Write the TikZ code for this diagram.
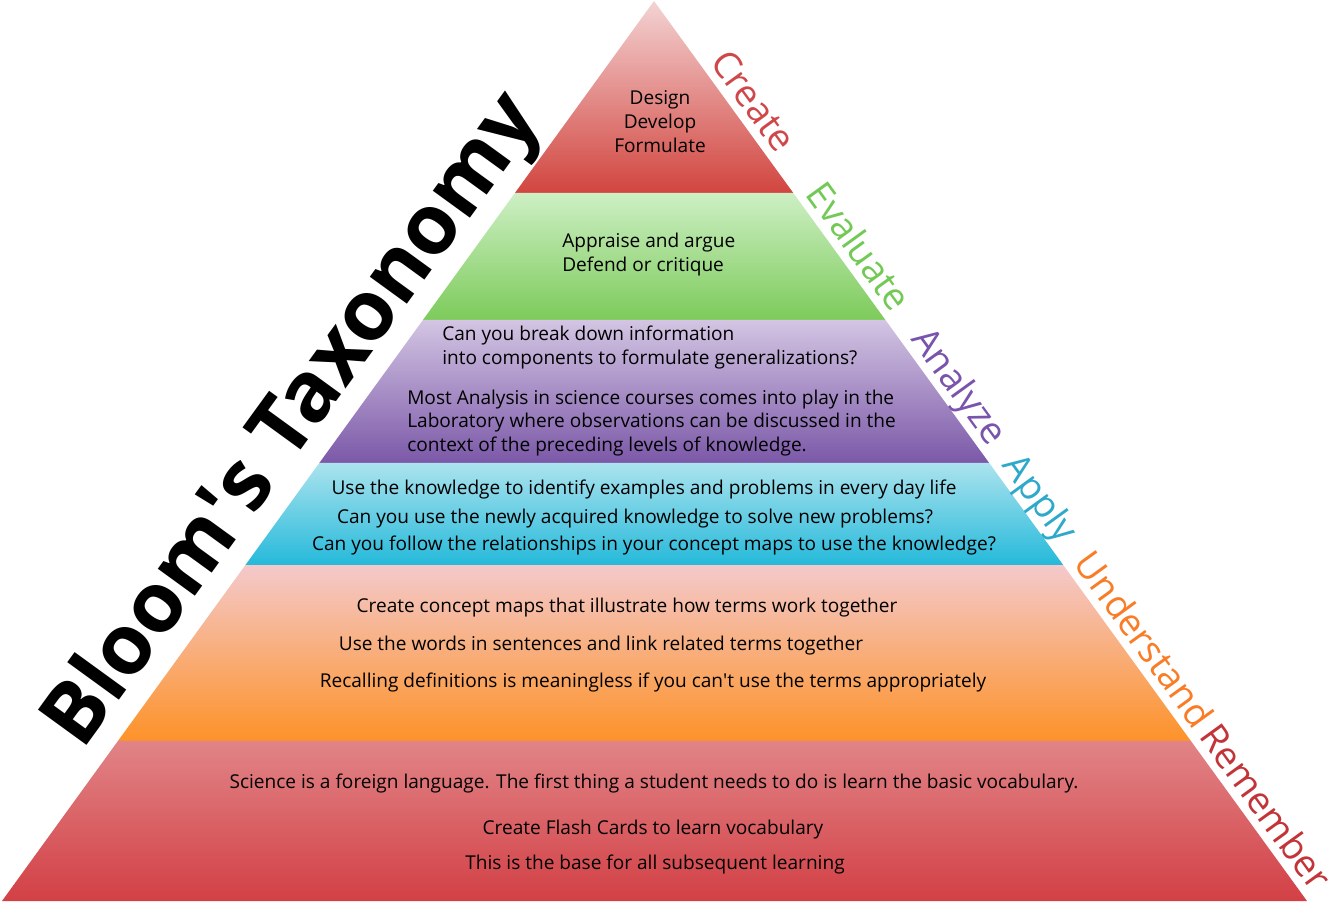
\documentclass[tikz,border=0pt]{standalone}
\usepackage{fontspec}
\setmainfont{Open Sans}
\usetikzlibrary{calc}
\newcommand{\sq}{\XeTeXglyph\XeTeXcharglyph"0027\relax}
\definecolor{createtop}{HTML}{F3D3D3}
\definecolor{createbot}{HTML}{D2453F}
\definecolor{evaltop}{HTML}{CDEFC4}
\definecolor{evalbot}{HTML}{7DCB5B}
\definecolor{analtop}{HTML}{D3C5E3}
\definecolor{analbot}{HTML}{7B58A8}
\definecolor{applytop}{HTML}{ABE3EE}
\definecolor{applybot}{HTML}{25B9DA}
\definecolor{undertop}{HTML}{F4C9CB}
\definecolor{underbot}{HTML}{FD9229}
\definecolor{remtop}{HTML}{E18487}
\definecolor{rembot}{HTML}{D24045}
\definecolor{createlbl}{HTML}{D0474A}
\definecolor{evallbl}{HTML}{72C955}
\definecolor{anallbl}{HTML}{7953AC}
\definecolor{applylbl}{HTML}{2EA9CA}
\definecolor{underlbl}{HTML}{F97C27}
\definecolor{remlbl}{HTML}{C23437}

\begin{document}
\begin{tikzpicture}[x=0.75pt,y=-0.75pt,
    txt/.style={font=\fontsize{14.3}{19}\selectfont, inner sep=0pt, text height=10.6pt, text depth=3.2pt},
    lvl/.style={font=\fontsize{28}{34}\selectfont, rotate=-54, anchor=base, inner sep=0pt}]
    \useasboundingbox (0,0) rectangle (1334,903);
    \coordinate (A) at (654,1);
    \coordinate (BL) at (2,901);
    \coordinate (BR) at (1307,901);
    % band edges
    \coordinate (L1) at ($(A)!0.2133!(BL)$); \coordinate (R1) at ($(A)!0.2133!(BR)$);
    \coordinate (L2) at ($(A)!0.3544!(BL)$); \coordinate (R2) at ($(A)!0.3544!(BR)$);
    \coordinate (L3) at ($(A)!0.5133!(BL)$); \coordinate (R3) at ($(A)!0.5133!(BR)$);
    \coordinate (L4) at ($(A)!0.6267!(BL)$); \coordinate (R4) at ($(A)!0.6267!(BR)$);
    \coordinate (L5) at ($(A)!0.8222!(BL)$); \coordinate (R5) at ($(A)!0.8222!(BR)$);

    \shade[top color=createtop, bottom color=createbot] (A)--(R1)--(L1)--cycle;
    \shade[top color=evaltop, bottom color=evalbot] (L1)--(R1)--(R2)--(L2)--cycle;
    \shade[top color=analtop, bottom color=analbot] (L2)--(R2)--(R3)--(L3)--cycle;
    \shade[top color=applytop, bottom color=applybot] (L3)--(R3)--(R4)--(L4)--cycle;
    \shade[top color=undertop, bottom color=underbot] (L4)--(R4)--(R5)--(L5)--cycle;
    \shade[top color=remtop, bottom color=rembot] (L5)--(R5)--(BR)--(BL)--cycle;

    % level names along the right side
    \node[lvl, text=createlbl] (create) at ($(A)!0.1254!(BR)+(7,-5)$) {Create};
    \node[lvl, text=evallbl] (evaluate) at ($(A)!0.2868!(BR)+(7,-5)$) {Evaluate};
    \node[lvl, text=anallbl] (analyze) at ($(A)!0.4417!(BR)+(7,-5)$) {Analyze};
    \node[lvl, text=applylbl] (apply) at ($(A)!0.5660!(BR)+(7,-5)$) {Apply};
    \node[lvl, text=underlbl] (understand) at ($(A)!0.7235!(BR)+(7,-5)$) {Understand};
    \node[lvl, text=remlbl] (remember) at ($(A)!0.9100!(BR)+(7,-5)$) {Remember};

    % title along the left side
    \node[font=\fontsize{63}{70}\selectfont\bfseries, rotate=54, anchor=base, inner sep=0pt] (title)
        at ($(A)!0.4962!(BL)+(-18,-13)$) {Bloom\sq s Taxonomy};

    % Create
    \node[txt] (create1) at (660,100) {Design};
    \node[txt] (create2) at (660,124) {Develop};
    \node[txt] (create3) at (660,148) {Formulate};
    % Evaluate
    \node[txt, anchor=west] (eval1) at (562,243) {Appraise and argue};
    \node[txt, anchor=west] (eval2) at (562,267) {Defend or critique};
    % Analyze
    \node[txt, anchor=west] (anal1) at (442,336) {Can you break down information};
    \node[txt, anchor=west] (anal2) at (442,360) {into components to formulate generalizations?};
    \node[txt, anchor=west] (anal3) at (407,400) {Most Analysis in science courses comes into play in the};
    \node[txt, anchor=west] (anal4) at (407,423) {Laboratory where observations can be discussed in the};
    \node[txt, anchor=west] (anal5) at (407,447) {context of the preceding levels of knowledge.};
    % Apply
    \node[txt] (apply1) at (644,490) {Use the knowledge to identify examples and problems in every day life};
    \node[txt] (apply2) at (635,519) {Can you use the newly acquired knowledge to solve new problems?};
    \node[txt] (apply3) at (654,546) {Can you follow the relationships in your concept maps to use the knowledge?};
    % Understand
    \node[txt] (under1) at (627,608) {Create concept maps that illustrate how terms work together};
    \node[txt] (under2) at (601,646) {Use the words in sentences and link related terms together};
    \node[txt] (under3) at (653,683) {Recalling definitions is meaningless if you can\sq t use the terms appropriately};
    % Remember
    \node[txt] (rem1) at (654,784) {Science is a foreign language. The first thing a student needs to do is learn the basic vocabulary.};
    \node[txt] (rem2) at (653,830) {Create Flash Cards to learn vocabulary};
    \node[txt] (rem3) at (655,865) {This is the base for all subsequent learning};
\end{tikzpicture}
\end{document}
